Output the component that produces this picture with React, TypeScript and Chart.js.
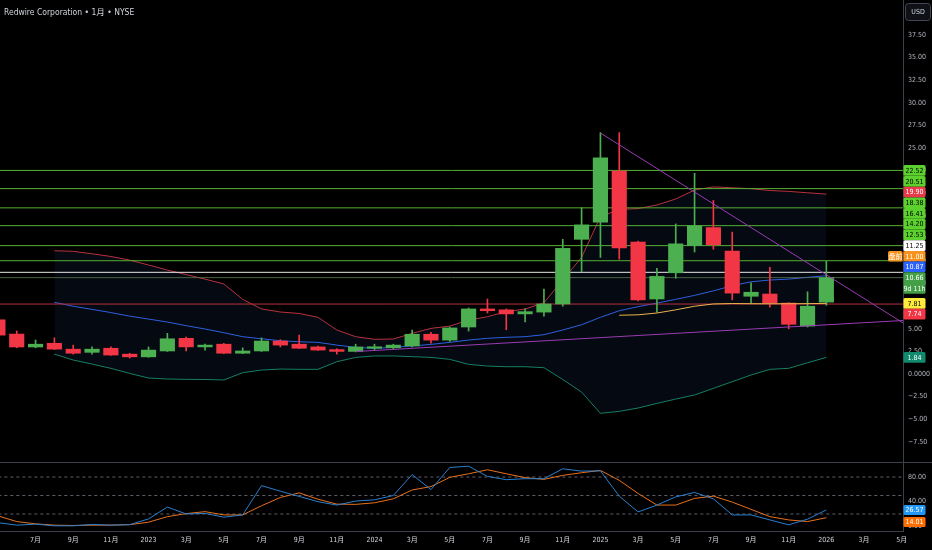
import React, { useEffect, useRef } from "react";
import { Chart, registerables } from "chart.js";

Chart.register(...registerables);

// ---------------- data ----------------
const TITLE = "Redwire Corporation • 1月 • NYSE";
const CURRENCY = "USD";
const FIRST_YEAR = 2022;
const FIRST_MONTH = 5; // May 2022 is bar index 0

const opens = [6.0, 4.42, 2.99, 3.4, 2.75, 2.4, 2.85, 2.2, 1.9, 2.55, 3.95, 3.0, 3.3, 2.3, 2.55, 3.65, 3.3, 3.0, 2.7, 2.5, 2.85, 2.9, 3.1, 4.4, 3.75, 5.2, 7.2, 7.1, 6.65, 6.85, 7.75, 14.9, 16.8, 22.45, 14.6, 8.3, 11.2, 14.2, 16.2, 13.6, 8.6, 8.85, 7.85, 5.3, 7.95];
const highs = [6.5, 4.76, 3.76, 4.0, 3.2, 3.0, 3.0, 2.3, 3.0, 4.5, 4.1, 3.3, 3.4, 2.9, 4.0, 3.8, 4.3, 3.1, 2.8, 3.3, 3.3, 3.3, 4.85, 4.6, 5.2, 7.3, 8.3, 7.2, 7.2, 9.4, 14.9, 18.4, 26.7, 26.7, 14.7, 11.7, 16.6, 22.2, 19.2, 15.7, 10.1, 11.8, 7.9, 9.1, 12.5];
const lows = [4.1, 2.9, 2.9, 2.7, 2.2, 2.2, 2.05, 1.77, 1.85, 2.5, 2.55, 2.65, 2.25, 2.25, 2.5, 3.0, 2.8, 2.6, 2.2, 2.45, 2.7, 2.8, 3.0, 3.4, 3.6, 4.75, 6.75, 4.9, 5.75, 6.4, 7.5, 11.3, 12.9, 12.7, 8.1, 6.85, 10.6, 13.5, 13.8, 8.2, 7.85, 7.4, 5.0, 5.2, 7.6];
const closes = [4.3, 2.99, 3.3, 2.75, 2.3, 2.75, 2.1, 1.9, 2.65, 3.9, 3.0, 3.2, 2.3, 2.55, 3.65, 3.2, 2.85, 2.65, 2.5, 3.0, 2.95, 3.2, 4.4, 3.75, 5.1, 7.2, 7.0, 6.65, 6.9, 7.75, 13.9, 16.5, 23.9, 13.95, 8.2, 10.8, 14.4, 16.4, 14.3, 8.95, 9.05, 7.85, 5.5, 7.5, 10.66];

const BB_START = 3;
const bbUpper = [13.64, 13.57, 13.3, 13.0, 12.6, 12.06, 11.5, 11.0, 10.5, 9.96, 8.26, 7.2, 6.86, 6.7, 6.27, 4.87, 4.13, 3.84, 3.87, 4.5, 5.05, 5.3, 5.97, 6.34, 6.9, 7.19, 7.89, 10.4, 12.9, 17.4, 18.2, 18.3, 18.7, 19.36, 20.35, 20.7, 20.6, 20.5, 20.3, 20.2, 20.05, 19.9];
const bbMid = [7.93, 7.5, 7.15, 6.8, 6.4, 6.08, 5.75, 5.35, 4.98, 4.57, 4.13, 3.9, 3.68, 3.57, 3.5, 3.2, 2.95, 2.84, 2.95, 3.1, 3.28, 3.5, 3.76, 3.95, 4.06, 4.13, 4.35, 4.87, 5.45, 6.27, 7.0, 7.45, 7.85, 8.26, 8.7, 9.2, 9.77, 10.2, 10.4, 10.5, 10.7, 10.87];
const bbLower = [2.2, 1.55, 1.1, 0.63, 0.07, -0.44, -0.55, -0.59, -0.6, -0.66, 0.15, 0.44, 0.55, 0.52, 0.52, 1.36, 1.84, 2.0, 2.0, 1.92, 1.84, 1.62, 1.07, 0.88, 0.81, 0.81, 0.7, -0.6, -2.0, -4.35, -4.13, -3.76, -3.25, -2.77, -2.32, -1.58, -0.85, -0.11, 0.52, 0.63, 1.25, 1.84];

const MA_START = 33;
const maValues = [6.5, 6.55, 6.75, 7.1, 7.5, 7.75, 7.8, 7.78, 7.77, 7.77, 7.79, 7.81];

const greenLevels = [22.52, 20.51, 18.38, 16.41, 14.2, 12.53];
const whiteLevel = 11.25;
const redLevel = 7.74;
const preMarket = 11.0;
const preMarketTag = "盘前";
const countdown = "9d 11h";

const trendDownX = [32, 50];
const trendDownY = [26.66, 3.13];
const trendUpX = [19, 50];
const trendUpY = [2.49, 6.15];

const stochK = [6, 1.9, 3.5, 0.8, 0.8, 3, 1.9, 2.7, 12, 31.3, 20, 21, 14.8, 18.5, 66, 57, 48.5, 40, 34.5, 41, 43, 50, 84, 59.6, 95.5, 97.6, 81, 75.7, 77.3, 77.3, 93.4, 89.6, 90, 49, 23.3, 34.5, 47.8, 55, 44.6, 18.5, 18.5, 10.4, 2.4, 11.6, 26.57];
const stochD = [17, 7.7, 4, 1.9, 1.4, 1.9, 1.9, 2.7, 6.7, 15.7, 20.6, 23.8, 18.5, 18.5, 33.4, 46.8, 54.3, 44, 36, 35.6, 38.2, 44.6, 59, 64.5, 79.5, 85.3, 91.8, 85.3, 79, 76.2, 82.7, 87, 90.7, 74.6, 53.3, 34.5, 34.5, 45.3, 49, 39.3, 27.6, 15.7, 10.4, 7.7, 14.01];
const stochBands = [80, 50, 20];
const stochTicks = [0, 40, 80];

// ---------------- view ----------------
const X_MIN = 0.1115;
const X_MAX = 48.07;
const Y_MIN = -9.73;
const Y_MAX = 41.37;
const S_MIN = -7.6;
const S_MAX = 104.4;
const AXIS_W = 29;

const FONT = '"Liberation Sans Narrow", "DejaVu Sans Condensed", Roboto, "Noto Sans", "Noto Sans CJK SC", sans-serif';
const AXIS_TEXT = "#b2b5be";
const AXIS_LINE = "#3b3f4a";
const UP = "#4caf50";
const DOWN = "#f23645";

const fmtPrice = (v: number) =>
  v === 0 ? "0.0000" : v < 0 ? "\u2212" + Math.abs(v).toFixed(2) : v.toFixed(2);

const monthLabel = (i: number) => {
  const t = FIRST_MONTH - 1 + i;
  const m = ((t % 12) + 12) % 12;
  const y = FIRST_YEAR + Math.floor(t / 12);
  return m === 0 ? String(y) : `${m + 1}月`;
};

const series = (arr: number[], start: number) => arr.map((v, k) => ({ x: start + k, y: v }));
const hline = (v: number) => [
  { x: X_MIN - 2, y: v },
  { x: X_MAX + 2, y: v },
];

type Tag = { v: number; bg: string; fg: string; sub?: string; anchor?: boolean; tag?: string };

function drawTags(ctx: CanvasRenderingContext2D, chart: any, scale: any, tags: Tag[], h: number, gap: number) {
  const area = chart.chartArea;
  const items = tags
    .map((t) => ({ ...t, y: scale.getPixelForValue(t.v), top: 0, bot: 0, hh: t.sub ? h * 2 : h }))
    .sort((a, b) => a.y - b.y);
  let a = items.findIndex((t) => t.anchor);
  if (a < 0) a = 0;
  items[a].top = items[a].y - h / 2;
  items[a].bot = items[a].top + items[a].hh;
  for (let k = a - 1; k >= 0; k--) {
    const s = items[k];
    s.top = Math.min(s.y - h / 2, items[k + 1].top - gap - s.hh);
    s.bot = s.top + s.hh;
  }
  for (let k = a + 1; k < items.length; k++) {
    const s = items[k];
    s.top = Math.max(s.y - h / 2, items[k - 1].bot + gap);
    s.bot = s.top + s.hh;
  }
  ctx.save();
  ctx.textAlign = "center";
  ctx.textBaseline = "middle";
  ctx.font = `7px ${FONT}`;
  const x0 = area.right + 0.5;
  const w = 22;
  for (const s of items) {
    ctx.fillStyle = s.bg;
    ctx.beginPath();
    (ctx as any).roundRect ? (ctx as any).roundRect(x0, s.top, w, s.hh, 1.5) : ctx.rect(x0, s.top, w, s.hh);
    ctx.fill();
    ctx.fillStyle = s.fg;
    ctx.fillText(s.v.toFixed(2), x0 + w / 2, s.top + h / 2 + 0.5);
    if (s.sub) ctx.fillText(s.sub, x0 + w / 2, s.top + h + h / 2 + 0.5);
    if (s.tag) {
      ctx.fillStyle = s.bg;
      ctx.beginPath();
      (ctx as any).roundRect ? (ctx as any).roundRect(area.right - 15, s.top, 14.5, s.hh, 1.5) : ctx.rect(area.right - 15, s.top, 14.5, s.hh);
      ctx.fill();
      ctx.fillStyle = s.fg;
      ctx.font = `7px "Noto Sans CJK SC", ${FONT}`;
      ctx.fillText(s.tag, area.right - 7.5, s.top + h / 2 + 0.5);
      ctx.font = `7px ${FONT}`;
    }
  }
  ctx.restore();
}

const topOverlay = {
  id: "topOverlay",
  afterDraw(chart: any) {
    const ctx = chart.ctx as CanvasRenderingContext2D;
    const area = chart.chartArea;
    // title
    ctx.save();
    ctx.fillStyle = "#d1d4dc";
    ctx.font = `8.5px ${FONT}`;
    ctx.textBaseline = "middle";
    ctx.textAlign = "left";
    ctx.fillText(TITLE, 4, 13);
    // currency box
    ctx.fillStyle = "#0f1116";
    ctx.strokeStyle = "#434651";
    ctx.lineWidth = 1;
    ctx.beginPath();
    (ctx as any).roundRect ? (ctx as any).roundRect(area.right + 2.5, 3.5, 25, 17, 3) : ctx.rect(area.right + 2.5, 3.5, 25, 17);
    ctx.fill();
    ctx.stroke();
    ctx.fillStyle = "#d1d4dc";
    ctx.textAlign = "center";
    ctx.font = `7px ${FONT}`;
    ctx.fillText(CURRENCY, area.right + 15, 12.5);
    ctx.restore();

    const last = closes.length - 1;
    const tags: Tag[] = [
      ...greenLevels.map((v) => ({ v, bg: "#5cd12e", fg: "#000" })),
      { v: bbUpper[bbUpper.length - 1], bg: "#e8394a", fg: "#fff" },
      { v: whiteLevel, bg: "#ffffff", fg: "#000" },
      { v: preMarket, bg: "#f7931e", fg: "#fff", tag: preMarketTag },
      { v: bbMid[bbMid.length - 1], bg: "#2962ff", fg: "#fff" },
      { v: closes[last], bg: "#43a047", fg: "#fff", sub: countdown, anchor: true },
      { v: maValues[maValues.length - 1], bg: "#ffeb3b", fg: "#000" },
      { v: redLevel, bg: "#f23645", fg: "#fff" },
      { v: bbLower[bbLower.length - 1], bg: "#0f8a6c", fg: "#fff" },
    ];
    drawTags(ctx, chart, chart.scales.y, tags, 10.7, 0);
  },
};

const botOverlay = {
  id: "botOverlay",
  afterDraw(chart: any) {
    const ctx = chart.ctx as CanvasRenderingContext2D;
    const area = chart.chartArea;
    ctx.save();
    ctx.strokeStyle = AXIS_LINE;
    ctx.lineWidth = 1;
    ctx.beginPath();
    ctx.moveTo(0, area.top + 0.5);
    ctx.lineTo(chart.width, area.top + 0.5);
    ctx.stroke();
    ctx.restore();
    const last = stochK.length - 1;
    drawTags(
      ctx,
      chart,
      chart.scales.y,
      [
        { v: stochK[last], bg: "#2196f3", fg: "#fff", anchor: true },
        { v: stochD[last], bg: "#ff6d00", fg: "#fff" },
      ],
      10,
      2
    );
  },
};

function topConfig(): any {
  const idx = opens.map((_, i) => i);
  const colors = idx.map((i) => (closes[i] >= opens[i] ? UP : DOWN));
  const line = (data: any[], color: string, order: number, extra: any = {}) => ({
    type: "line",
    data,
    borderColor: color,
    borderWidth: 1,
    pointRadius: 0,
    tension: 0,
    fill: false,
    order,
    ...extra,
  });
  const datasets: any[] = [
    line(series(bbUpper, BB_START), "#b8323e", 8, { fill: 2, backgroundColor: "rgba(50,100,210,0.085)" }),
    line(series(bbMid, BB_START), "#2f5fe0", 8),
    line(series(bbLower, BB_START), "#16805f", 8),
    ...greenLevels.map((v) => line(hline(v), "#56b032", 7)),
    line(hline(whiteLevel), "#e8e8e8", 7),
    line(hline(closes[closes.length - 1]), "rgba(90,120,80,0.8)", 7),
    line(hline(redLevel), "#b8323e", 7),
    {
      type: "bar",
      data: idx.map((i) => ({ x: i, y: [lows[i], highs[i]] })),
      backgroundColor: colors,
      barThickness: 1,
      grouped: false,
      order: 4,
    },
    {
      type: "bar",
      data: idx.map((i) => ({ x: i, y: [opens[i], closes[i]] })),
      backgroundColor: colors,
      barThickness: 14.5,
      minBarLength: 1.5,
      grouped: false,
      order: 3,
    },
    line(series(maValues, MA_START), "#e9b44c", 2),
    line(trendDownX.map((x, k) => ({ x, y: trendDownY[k] })), "#9a3bb3", 1),
    line(trendUpX.map((x, k) => ({ x, y: trendUpY[k] })), "#9a3bb3", 1),
  ];
  return {
    type: "bar",
    data: { datasets },
    plugins: [topOverlay],
    options: {
      animation: false,
      responsive: false,
      maintainAspectRatio: false,
      events: [],
      layout: { padding: 0 },
      plugins: { legend: { display: false }, tooltip: { enabled: false } },
      scales: {
        x: { type: "linear", min: X_MIN, max: X_MAX, display: false, offset: false },
        y: {
          type: "linear",
          position: "right",
          min: Y_MIN,
          max: Y_MAX,
          grid: { display: false, drawTicks: false },
          border: { display: true, color: AXIS_LINE },
          ticks: { color: AXIS_TEXT, font: { size: 7, family: FONT }, padding: 5, callback: (v: number) => fmtPrice(v) },
          afterBuildTicks: (s: any) => {
            const t = [];
            for (let k = Math.ceil(Y_MIN / 2.5); k * 2.5 <= Y_MAX; k++) t.push({ value: k * 2.5 });
            s.ticks = t;
          },
          afterFit: (s: any) => {
            s.width = AXIS_W;
            s.paddingTop = 0;
            s.paddingBottom = 0;
          },
        },
      },
    },
  };
}

function botConfig(): any {
  const idx = stochK.map((_, i) => i);
  const datasets: any[] = [
    ...stochBands.map((v) => ({
      type: "line",
      data: hline(v),
      borderColor: "#5d606b",
      borderWidth: 1,
      borderDash: [3, 3],
      pointRadius: 0,
      order: 5,
    })),
    {
      type: "line",
      data: idx.map((i) => ({ x: i, y: stochD[i] })),
      borderColor: "#e8711c",
      borderWidth: 1,
      pointRadius: 0,
      tension: 0,
      order: 2,
    },
    {
      type: "line",
      data: idx.map((i) => ({ x: i, y: stochK[i] })),
      borderColor: "#2b7fd0",
      borderWidth: 1,
      pointRadius: 0,
      tension: 0,
      order: 1,
    },
  ];
  return {
    type: "line",
    data: { datasets },
    plugins: [botOverlay],
    options: {
      animation: false,
      responsive: false,
      maintainAspectRatio: false,
      events: [],
      layout: { padding: 0 },
      plugins: { legend: { display: false }, tooltip: { enabled: false } },
      scales: {
        x: {
          type: "linear",
          min: X_MIN,
          max: X_MAX,
          offset: false,
          grid: { display: false, drawTicks: false },
          border: { display: true, color: AXIS_LINE },
          ticks: {
            color: "#d1d4dc",
            font: { size: 7, family: FONT },
            padding: 5,
            autoSkip: false,
            maxRotation: 0,
            callback: (v: number) => monthLabel(v),
          },
          afterBuildTicks: (s: any) => {
            const t = [];
            for (let i = Math.ceil(X_MIN); i <= Math.floor(X_MAX); i++) {
              if ((FIRST_MONTH - 1 + i) % 2 === 0) t.push({ value: i });
            }
            s.ticks = t;
          },
          afterFit: (s: any) => {
            s.height = 19;
            s.paddingLeft = 0;
            s.paddingRight = 0;
          },
        },
        y: {
          type: "linear",
          position: "right",
          min: S_MIN,
          max: S_MAX,
          grid: { display: false, drawTicks: false },
          border: { display: true, color: AXIS_LINE },
          ticks: { color: AXIS_TEXT, font: { size: 7, family: FONT }, padding: 5, callback: (v: number) => v.toFixed(2) },
          afterBuildTicks: (s: any) => {
            s.ticks = stochTicks.map((v) => ({ value: v }));
          },
          afterFit: (s: any) => {
            s.width = AXIS_W;
            s.paddingTop = 0;
            s.paddingBottom = 0;
          },
        },
      },
    },
  };
}

export default function App() {
  const topRef = useRef<HTMLCanvasElement>(null);
  const botRef = useRef<HTMLCanvasElement>(null);
  useEffect(() => {
    document.body.style.margin = "0";
    document.body.style.background = "#000";
    const top = new Chart(topRef.current as HTMLCanvasElement, topConfig());
    const bot = new Chart(botRef.current as HTMLCanvasElement, botConfig());
    return () => {
      top.destroy();
      bot.destroy();
    };
  }, []);
  return (
    <div style={{ position: "fixed", left: 0, top: 0, width: 932, height: 550, background: "#000", overflow: "hidden" }}>
      <canvas ref={topRef} width={932} height={462} style={{ position: "absolute", left: 0, top: 0, width: 932, height: 462 }} />
      <canvas ref={botRef} width={932} height={88} style={{ position: "absolute", left: 0, top: 462, width: 932, height: 88 }} />
    </div>
  );
}
